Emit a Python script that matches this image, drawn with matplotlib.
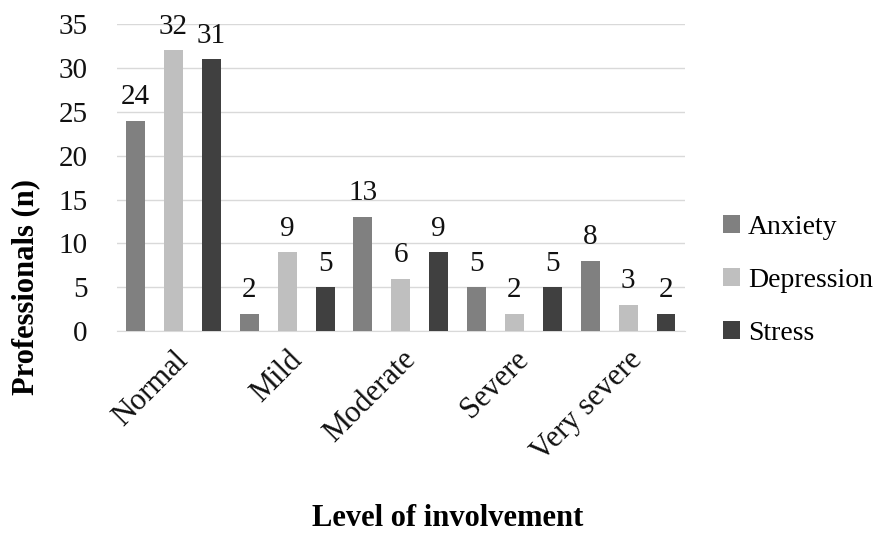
import numpy as np
import matplotlib
matplotlib.use('Agg')
import matplotlib.pyplot as plt

plt.rcParams['font.family'] = ['Liberation Serif', 'DejaVu Serif']

# data
levels = ['Normal', 'Mild', 'Moderate', 'Severe', 'Very severe']
series_names = ['Anxiety', 'Depression', 'Stress']
anxiety = [24, 2, 13, 5, 8]
depression = [32, 9, 6, 2, 3]
stress = [31, 5, 9, 5, 2]
colors = ['#808080', '#bfbfbf', '#404040']

fig = plt.figure(figsize=(8.77, 5.36), dpi=100)
ax = fig.add_axes([0.133, 0.382, 0.648, 0.573])

x = np.arange(len(levels))
offsets = [-1/3, 0, 1/3]
width = 0.167

for vals, name, col, off in zip([anxiety, depression, stress], series_names, colors, offsets):
    bars = ax.bar(x + off, vals, width, color=col, label=name, zorder=3)
    for b, v in zip(bars, vals):
        ax.text(b.get_x() + b.get_width() / 2, v + 1.9, str(v),
                ha='center', va='baseline', fontsize=21, color='#111111')

ax.set_xlim(-0.5, 4.5)
ax.set_ylim(0, 35)
ax.set_yticks(range(0, 36, 5))
ax.yaxis.grid(True, color='#d9d9d9', linewidth=1, zorder=0)
ax.set_axisbelow(True)
for s in ['top', 'right', 'left']:
    ax.spines[s].set_visible(False)
ax.spines['bottom'].set_color('#d9d9d9')
ax.tick_params(axis='both', length=0, labelsize=21, colors='#111111')
ax.tick_params(axis='y', pad=21)

ax.set_xticks(x)
ax.set_xticklabels(levels, rotation=45, ha='right', rotation_mode='anchor', fontsize=22)
ax.tick_params(axis='x', pad=10)

fig.text(0.029, 0.465, 'Professionals (n)', rotation=90, ha='center', va='center',
         fontsize=22, fontweight='bold')
fig.text(0.51, 0.006, 'Level of involvement', ha='center', va='bottom',
         fontsize=22, fontweight='bold')

leg = ax.legend(loc='center left', bbox_to_anchor=(1.067, 0.166), frameon=False,
                fontsize=20, handlelength=0.6, handleheight=0.6,
                handletextpad=0.3, labelspacing=1.0, borderpad=0, borderaxespad=0)

fig.savefig('out.png', dpi=100)
